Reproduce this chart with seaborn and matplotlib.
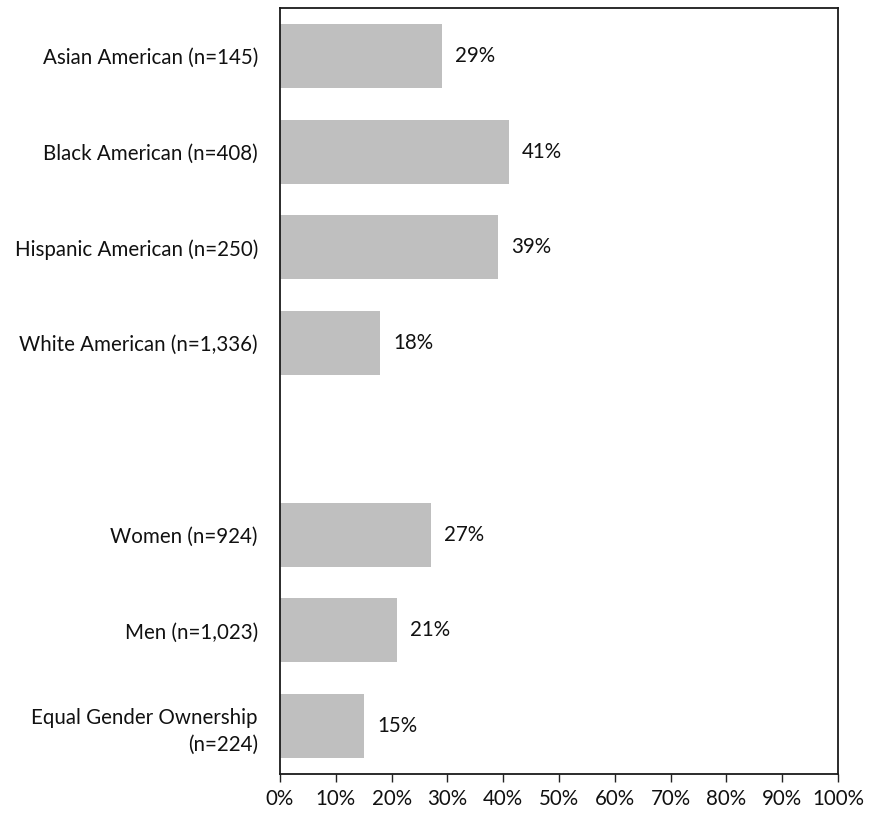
import matplotlib
matplotlib.use("Agg")
import matplotlib.pyplot as plt
import seaborn as sns
import pandas as pd

categories = [
    "Asian American (n=145)",
    "Black American (n=408)",
    "Hispanic American (n=250)",
    "White American (n=1,336)",
    "Women (n=924)",
    "Men (n=1,023)",
    "Equal Gender Ownership\n(n=224)",
]
values = [29, 41, 39, 18, 27, 21, 15]
tick_values = [0, 10, 20, 30, 40, 50, 60, 70, 80, 90, 100]
tick_labels = [f"{t}%" for t in tick_values]

# blank slot separating the race/ethnicity group from the gender group
order = categories[:4] + [" "] + categories[4:]

sns.set_theme(style="white")
plt.rcParams["font.family"] = ["Lato", "DejaVu Sans"]

FS = 14.8

df = pd.DataFrame({"group": categories, "share": values})

fig = plt.figure(figsize=(8.73, 8.15), dpi=100)
ax = fig.add_axes([280 / 873, 1 - 774 / 815, (838 - 280) / 873, (774 - 8) / 815])

sns.barplot(data=df, x="share", y="group", order=order, color="#BFBFBF",
            saturation=1, width=0.67, orient="h", ax=ax)

for patch in ax.patches:
    patch.set_edgecolor("none")

for cat, val in zip(categories, values):
    y = order.index(cat)
    ax.annotate(f"{val}%", xy=(val, y), xytext=(9.5, 0), textcoords="offset points",
                va="center", ha="left", fontsize=FS, color="#111111")

ax.set_xlim(0, 100)
ax.set_ylim(len(order) - 0.5, -0.5)
ax.set_xticks(tick_values)
ax.set_xticklabels(tick_labels, fontsize=FS, color="#111111")
ax.tick_params(axis="x", which="major", direction="out", length=6, width=1,
               color="#222222", bottom=True, pad=5)
ax.tick_params(axis="y", left=False, pad=10, labelsize=FS, labelcolor="#111111")
for lbl in ax.get_yticklabels():
    lbl.set_multialignment("right")
    lbl.set_linespacing(1.45)

ax.set_xlabel("")
ax.set_ylabel("")
for side in ["left", "right", "top", "bottom"]:
    ax.spines[side].set_visible(True)
    ax.spines[side].set_color("#1a1a1a")
    ax.spines[side].set_linewidth(1.3)

fig.savefig("out.png", dpi=100, facecolor="white")
